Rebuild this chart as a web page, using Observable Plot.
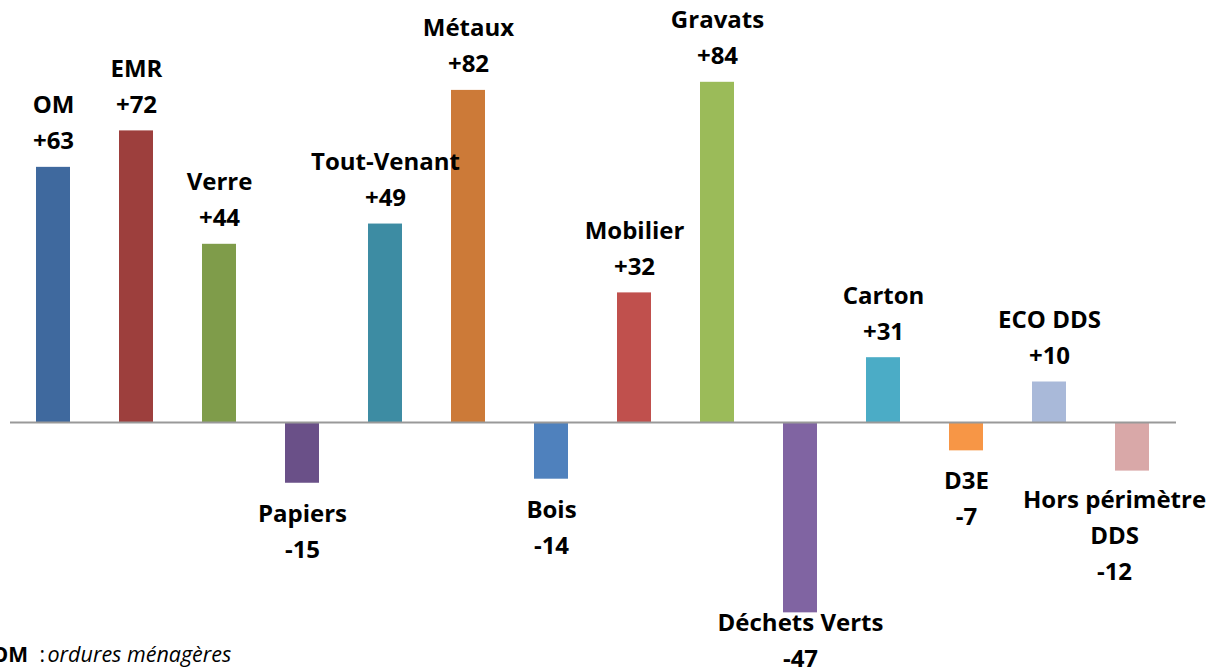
<!DOCTYPE html>
<html>
<head>
<meta charset="utf-8">
<script src="https://cdn.jsdelivr.net/npm/d3@7"></script>
<script src="https://cdn.jsdelivr.net/npm/@observablehq/plot@0.6"></script>
<style>
  html, body { margin: 0; padding: 0; background: #fff; overflow: hidden; }
  #chart svg { display: block; }
</style>
</head>
<body>
<div id="chart"></div>
<script>
const categories = ["OM", "EMR", "Verre", "Papiers", "Tout-Venant", "Métaux", "Bois", "Mobilier", "Gravats", "Déchets Verts", "Carton", "D3E", "ECO DDS", "Hors périmètre\nDDS"];
// bar heights as drawn in the picture
const barValues = [63, 72, 44, -15, 49, 82, -14, 32, 84, -47, 16, -7, 10, -12];
// value labels as printed
const valueLabels = ["+63", "+72", "+44", "-15", "+49", "+82", "-14", "+32", "+84", "-47", "+31", "-7", "+10", "-12"];
const colors = ["#3f699e", "#9d3f3d", "#7f9c4a", "#6a5088", "#3d8ca3", "#cc7a38", "#4f81bd", "#c0504d", "#9bbb59", "#8064a2", "#4bacc6", "#f79646", "#a9b9d9", "#d9a8a8"];

const data = categories.map((c, i) => ({
  cat: c,
  value: barValues[i],
  label: c + "\n" + valueLabels[i],
  color: colors[i]
}));

const W = 1229, H = 667;
const pos = data.filter(d => d.value >= 0);
const neg = data.filter(d => d.value < 0 && d.value > -40 && !d.cat.includes("\n"));
const negWrapped = data.filter(d => d.value < 0 && d.cat.includes("\n"));
const deep = data.filter(d => d.value <= -40);
const font = "'Open Sans', Lato, sans-serif";
const FS = 24;
const LH = 1.5;

const chart = Plot.plot({
  width: W,
  height: H,
  marginLeft: 10,
  marginRight: 53,
  marginTop: 17,
  marginBottom: 2,
  style: { fontFamily: font, background: "#fff", overflow: "visible" },
  x: { domain: categories, paddingInner: 0.59, paddingOuter: 0.295, axis: null },
  y: { domain: [-60, 100], axis: null },
  marks: [
    Plot.barY(data, { x: "cat", y: "value", fill: "color" }),
    Plot.ruleY([0], { stroke: "#999", strokeWidth: 2 }),
    Plot.text(pos, {
      x: "cat", y: "value", text: "label",
      lineAnchor: "bottom", lineHeight: LH, dy: -18,
      fontSize: FS, fontWeight: "bold", fill: "#000"
    }),
    Plot.text(neg, {
      x: "cat", y: "value", text: "label",
      lineAnchor: "top", lineHeight: LH, dy: 13,
      fontSize: FS, fontWeight: "bold", fill: "#000"
    }),
    Plot.text(negWrapped, {
      x: "cat", y: "value", text: "label",
      lineAnchor: "top", lineHeight: LH, dy: 11, dx: -18,
      fontSize: FS, fontWeight: "bold", fill: "#000"
    }),
    Plot.text(deep, {
      x: "cat", y: "value", text: "label",
      lineAnchor: "top", lineHeight: LH, dy: -7,
      fontSize: FS, fontWeight: "bold", fill: "#000"
    }),
    Plot.text(["OM"], {
      frameAnchor: "bottom-left", text: d => d, textAnchor: "start",
      lineAnchor: "bottom", dx: -19, dy: -4,
      fontSize: 21, fontWeight: "bold", fill: "#000"
    }),
    Plot.text([":"], {
      frameAnchor: "bottom-left", text: d => d, textAnchor: "start",
      lineAnchor: "bottom", dx: 29, dy: -4,
      fontSize: 21, fill: "#000"
    }),
    Plot.text(["ordures ménagères"], {
      frameAnchor: "bottom-left", text: d => d, textAnchor: "start",
      lineAnchor: "bottom", dx: 37, dy: -4,
      fontSize: 21.5, fontStyle: "italic", fill: "#000"
    })
  ]
});
document.getElementById("chart").appendChild(chart);
</script>
</body>
</html>
